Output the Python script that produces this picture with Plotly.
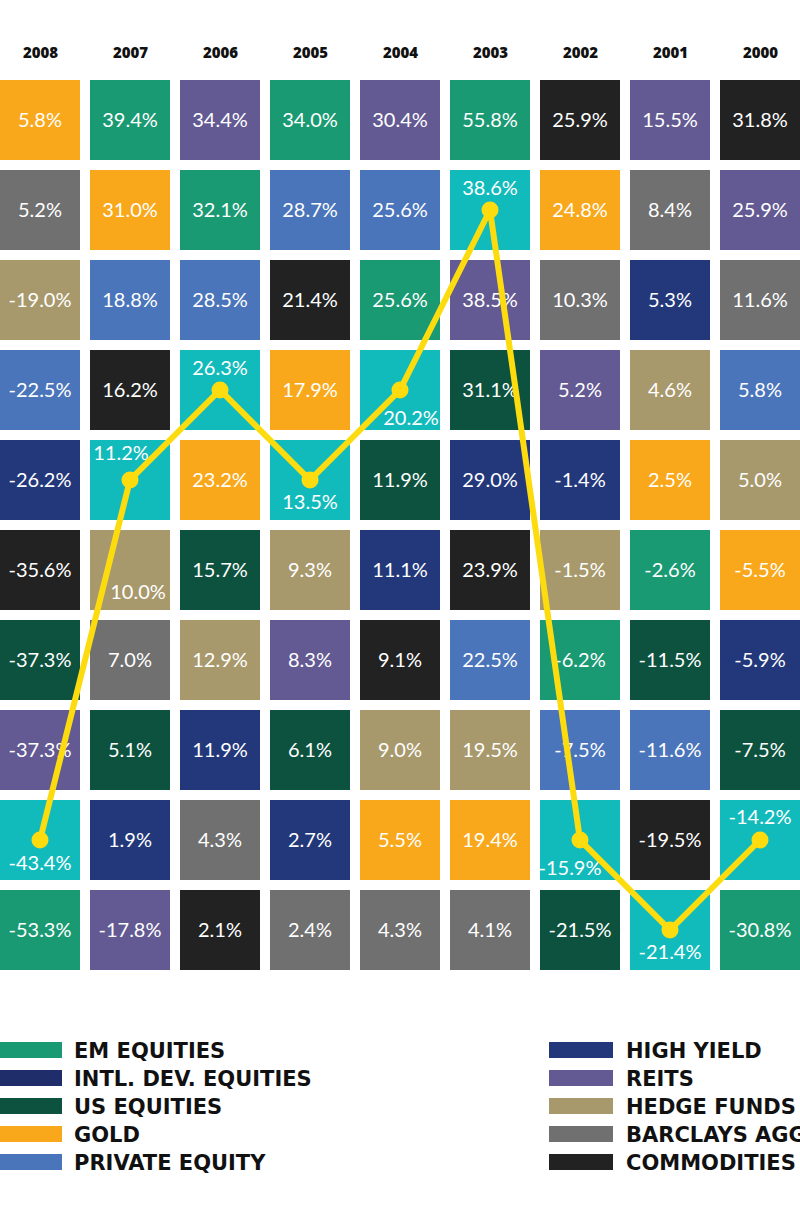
# Importer les librairies nécessaires au travail

import plotly.graph_objects as go

# Les années (colonnes) et les classes d'actifs classées de la meilleure à la pire

years = ["2008", "2007", "2006", "2005", "2004", "2003", "2002", "2001", "2000"]

classes_2008 = ["GOLD", "AGG", "HEDGE", "PE", "HY", "COMM", "US", "REIT", "INTL", "EM"]
returns_2008 = [5.8, 5.2, -19.0, -22.5, -26.2, -35.6, -37.3, -37.3, -43.4, -53.3]

classes_2007 = ["EM", "GOLD", "PE", "COMM", "INTL", "HEDGE", "AGG", "US", "HY", "REIT"]
returns_2007 = [39.4, 31.0, 18.8, 16.2, 11.2, 10.0, 7.0, 5.1, 1.9, -17.8]

classes_2006 = ["REIT", "EM", "PE", "INTL", "GOLD", "US", "HEDGE", "HY", "AGG", "COMM"]
returns_2006 = [34.4, 32.1, 28.5, 26.3, 23.2, 15.7, 12.9, 11.9, 4.3, 2.1]

classes_2005 = ["EM", "PE", "COMM", "GOLD", "INTL", "HEDGE", "REIT", "US", "HY", "AGG"]
returns_2005 = [34.0, 28.7, 21.4, 17.9, 13.5, 9.3, 8.3, 6.1, 2.7, 2.4]

classes_2004 = ["REIT", "PE", "EM", "INTL", "US", "HY", "COMM", "HEDGE", "GOLD", "AGG"]
returns_2004 = [30.4, 25.6, 25.6, 20.2, 11.9, 11.1, 9.1, 9.0, 5.5, 4.3]

classes_2003 = ["EM", "INTL", "REIT", "US", "HY", "COMM", "PE", "HEDGE", "GOLD", "AGG"]
returns_2003 = [55.8, 38.6, 38.5, 31.1, 29.0, 23.9, 22.5, 19.5, 19.4, 4.1]

classes_2002 = ["COMM", "GOLD", "AGG", "REIT", "HY", "HEDGE", "EM", "PE", "INTL", "US"]
returns_2002 = [25.9, 24.8, 10.3, 5.2, -1.4, -1.5, -6.2, -7.5, -15.9, -21.5]

classes_2001 = ["REIT", "AGG", "HY", "HEDGE", "GOLD", "EM", "US", "PE", "COMM", "INTL"]
returns_2001 = [15.5, 8.4, 5.3, 4.6, 2.5, -2.6, -11.5, -11.6, -19.5, -21.4]

classes_2000 = ["COMM", "REIT", "AGG", "PE", "HEDGE", "GOLD", "HY", "US", "INTL", "EM"]
returns_2000 = [31.8, 25.9, 11.6, 5.8, 5.0, -5.5, -5.9, -7.5, -14.2, -30.8]

classes_by_year = [classes_2008, classes_2007, classes_2006, classes_2005, classes_2004,
                   classes_2003, classes_2002, classes_2001, classes_2000]
returns_by_year = [returns_2008, returns_2007, returns_2006, returns_2005, returns_2004,
                   returns_2003, returns_2002, returns_2001, returns_2000]

# Légende : deux colonnes

legend_left = ["EM", "INTL", "US", "GOLD", "PE"]
legend_right = ["HY", "REIT", "HEDGE", "AGG", "COMM"]
legend_names = {"EM": "EM EQUITIES", "INTL": "INTL. DEV. EQUITIES", "US": "US EQUITIES",
                "GOLD": "GOLD", "PE": "PRIVATE EQUITY", "HY": "HIGH YIELD", "REIT": "REITS",
                "HEDGE": "HEDGE FUNDS", "AGG": "BARCLAYS AGG", "COMM": "COMMODITIES"}

# Couleurs des cases (la courbe jaune suit les actions internationales)

cell_colors = {"EM": "#1a9a73", "INTL": "#12bbbb", "US": "#0c523e", "GOLD": "#f9a81b",
               "PE": "#4a75bb", "HY": "#23387b", "REIT": "#635a93", "HEDGE": "#a8996c",
               "AGG": "#707070", "COMM": "#222222"}
legend_colors = dict(cell_colors, INTL="#1f2e6a")
line_color = "#fddc0f"

# Décalage de certaines étiquettes (en pixels) pour laisser passer la courbe

label_nudge = {(0, "INTL"): (0, 23), (1, "INTL"): (-9, -27), (1, "HEDGE"): (8, 22),
               (2, "INTL"): (0, -22), (3, "INTL"): (0, 22), (4, "INTL"): (11, 28),
               (5, "INTL"): (0, -22), (6, "INTL"): (-10, 28), (7, "INTL"): (0, 22),
               (8, "INTL"): (0, -23)}

CELL_PX = 90
FONT = "Lato"
YEAR_FONT = "Open Sans"
LEGEND_FONT = "DejaVu Sans"

fig = go.Figure()

# Tracer les cases, une trace par classe d'actifs

for code in cell_colors:
    xs, ys = [], []
    for i, classes in enumerate(classes_by_year):
        for r, c in enumerate(classes):
            if c == code:
                xs.append(i)
                ys.append(r + 1)
    fig.add_trace(go.Scatter(x=xs, y=ys, mode="markers", name=legend_names[code],
                             marker=dict(symbol="square", size=80, color=cell_colors[code],
                                         line=dict(width=0)),
                             hoverinfo="skip", showlegend=False))

# Ajouter les rendements en texte dans chaque case

tx, ty, tt = [], [], []
for i, (classes, rets) in enumerate(zip(classes_by_year, returns_by_year)):
    for r, (c, v) in enumerate(zip(classes, rets)):
        dx, dy = label_nudge.get((i, c), (0, 0))
        tx.append(i + dx / CELL_PX)
        ty.append(r + 1 + (dy + 2) / CELL_PX)
        tt.append("{:.1f}%".format(v))

fig.add_trace(go.Scatter(x=tx, y=ty, text=tt, mode="text", textposition="middle center",
                         textfont=dict(family=FONT, size=20, color="white"),
                         hoverinfo="skip", showlegend=False))

# Tracer la courbe des actions internationales

line_x = list(range(len(years)))
line_y = [classes.index("INTL") + 1 for classes in classes_by_year]
fig.add_trace(go.Scatter(x=line_x, y=line_y, mode="lines+markers",
                         line=dict(color=line_color, width=6),
                         marker=dict(color=line_color, size=17),
                         hoverinfo="skip", showlegend=False))

# Les années en haut des colonnes

H = 1222
for i, year in enumerate(years):
    fig.add_annotation(x=i, y=1 - 52 / H, xref="x", yref="paper", text=year,
                       showarrow=False, yanchor="middle",
                       font=dict(family=YEAR_FONT, size=15, color="#111111", weight=800))

# Construire la légende à la main (rectangles + texte)

rows_y = [1050, 1078, 1106, 1134, 1162]
for codes, x0, x1, xt in [(legend_left, 0, 62, 72), (legend_right, 549, 613, 624)]:
    for code, py in zip(codes, rows_y):
        fig.add_shape(type="rect", xref="paper", yref="paper",
                      x0=x0 / 800, x1=x1 / 800, y0=1 - (py + 8) / H, y1=1 - (py - 8) / H,
                      fillcolor=legend_colors[code], line=dict(width=0))
        fig.add_annotation(x=xt / 800, y=1 - (py + 1) / H, xref="paper", yref="paper",
                           text=legend_names[code], showarrow=False,
                           xanchor="left", yanchor="middle",
                           font=dict(family=LEGEND_FONT, size=21, color="#111111",
                                     weight=700))

# Mettre à jour la mise en page

fig.update_xaxes(range=[-40 / CELL_PX, 760 / CELL_PX], visible=False)
fig.update_yaxes(range=[(H - 30) / CELL_PX, -30 / CELL_PX], visible=False)
fig.update_layout(width=800, height=H, margin=dict(l=0, r=0, t=0, b=0),
                  plot_bgcolor="white", paper_bgcolor="white")

# Enlever la marge par défaut de la page et la barre d'outils
fig.write_html("out.html", config={"displayModeBar": False},
               post_script="document.body.style.margin = '0';")
